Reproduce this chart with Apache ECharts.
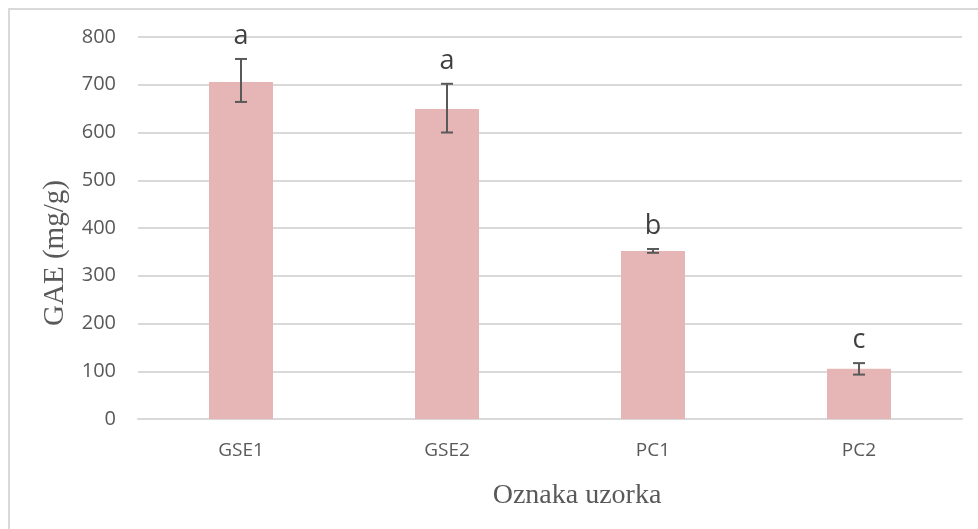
<!DOCTYPE html>
<html>
<head>
<meta charset="utf-8">
<script src="https://cdn.jsdelivr.net/npm/echarts@6/dist/echarts.min.js"></script>
<style>
  html, body { margin: 0; padding: 0; background: #fff; }
  #ch1 { width: 978px; height: 529px; }
</style>
</head>
<body>
<div id="ch1"></div>
<script>
var categories = ['GSE1', 'GSE2', 'PC1', 'PC2'];
var values = [706, 649, 352, 105];
var errLow = [664, 600, 348, 93];
var errHigh = [754, 702, 356, 117];
var letters = ['a', 'a', 'b', 'c'];
var yTicks = [0, 800, 100]; // min, max, interval

window.onload = function() {
  var ch1 = echarts.init(document.getElementById('ch1'));

  var errData = categories.map(function(c, i) {
    return [i, errLow[i], errHigh[i]];
  });

  var op1 = {
    animation: false,
    grid: {
      left: 138,
      right: 16,
      top: 37,
      bottom: 110
    },
    graphic: [{
      type: 'polyline',
      shape: { points: [[9, 529], [9, 9], [978, 9]] },
      style: { stroke: '#d9d9d9', lineWidth: 2, fill: null }
    }],
    xAxis: {
      type: 'category',
      data: categories,
      name: 'Oznaka uzorka',
      nameLocation: 'middle',
      nameGap: 63,
      nameTextStyle: {
        fontFamily: 'Liberation Serif',
        fontSize: 28,
        color: '#595959',
        padding: [0, 0, 0, 54]
      },
      axisLine: { lineStyle: { color: '#d9d9d9', width: 2 } },
      axisTick: { show: false },
      axisLabel: {
        margin: 22,
        fontFamily: 'Open Sans',
        fontSize: 19,
        color: '#595959'
      }
    },
    yAxis: {
      type: 'value',
      min: yTicks[0],
      max: yTicks[1],
      interval: yTicks[2],
      name: 'GAE (mg/g)',
      nameLocation: 'middle',
      nameGap: 68,
      nameRotate: 90,
      nameTextStyle: {
        fontFamily: 'Liberation Serif',
        fontSize: 29,
        color: '#595959',
        padding: [0, 50, 0, 0]
      },
      axisLine: { show: false },
      axisTick: { show: false },
      splitLine: { lineStyle: { color: '#d9d9d9', width: 2 } },
      axisLabel: {
        margin: 22,
        fontFamily: 'Open Sans',
        fontSize: 20,
        color: '#595959'
      }
    },
    series: [{
      type: 'bar',
      data: values,
      barWidth: 64,
      itemStyle: { color: '#E6B6B6' }
    }, {
      type: 'custom',
      data: errData,
      z: 10,
      renderItem: function(params, api) {
        var x = api.value(0);
        var lo = api.coord([x, api.value(1)]);
        var hi = api.coord([x, api.value(2)]);
        var cap = 6;
        var st = { stroke: '#595959', lineWidth: 2 };
        return {
          type: 'group',
          children: [
            { type: 'line', shape: { x1: hi[0], y1: hi[1], x2: lo[0], y2: lo[1] }, style: st },
            { type: 'line', shape: { x1: hi[0] - cap, y1: hi[1], x2: hi[0] + cap, y2: hi[1] }, style: st },
            { type: 'line', shape: { x1: lo[0] - cap, y1: lo[1], x2: lo[0] + cap, y2: lo[1] }, style: st },
            {
              type: 'text',
              x: hi[0],
              y: hi[1] - 9,
              style: {
                text: letters[params.dataIndex],
                fontFamily: 'Open Sans',
                fontSize: 27,
                fill: '#404040',
                align: 'center',
                verticalAlign: 'bottom'
              }
            }
          ]
        };
      }
    }]
  };

  ch1.setOption(op1);
};
</script>
</body>
</html>
